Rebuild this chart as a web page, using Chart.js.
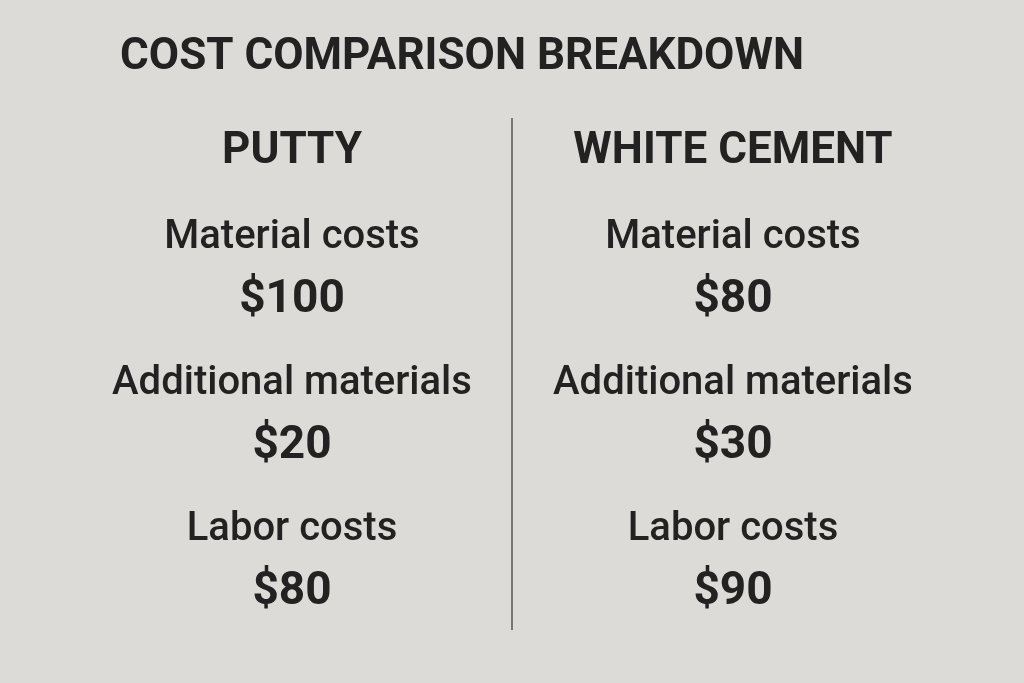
<!DOCTYPE html>
<html>
<head>
<meta charset="utf-8">
<script src="https://cdn.jsdelivr.net/npm/chart.js@4/dist/chart.umd.min.js"></script>
<style>
  html, body { margin: 0; padding: 0; background: #dddbd7; }
  #wrap { width: 1024px; height: 683px; }
</style>
</head>
<body>
<div id="wrap"><canvas id="costChart"></canvas></div>
<script>
// data
const title = 'COST COMPARISON BREAKDOWN';
const products = ['PUTTY', 'WHITE CEMENT'];
const costItems = ['Material costs', 'Additional materials', 'Labor costs'];
const puttyCosts = [100, 20, 80];
const cementCosts = [80, 30, 90];

// layout (page pixels, used only as scale positions)
const columnX = [292, 733];
const headerY = 152;
const labelY = [238, 384, 530];
const valueY = [300, 446, 592];
const dividerX = 512;
const dividerTop = 118;
const dividerBottom = 630;

const allCosts = [puttyCosts, cementCosts];
const labelPoints = [];
const valuePoints = [];
products.forEach((p, c) => {
  costItems.forEach((item, r) => {
    labelPoints.push({ x: columnX[c], y: labelY[r], text: item });
    valuePoints.push({ x: columnX[c], y: valueY[r], text: '$' + allCosts[c][r] });
  });
});
const headerPoints = products.map((p, c) => ({ x: columnX[c], y: headerY, text: p }));

const textPlugin = {
  id: 'textPlugin',
  afterDatasetsDraw(chart) {
    const ctx = chart.ctx;
    const xs = chart.scales.x, ys = chart.scales.y;
    ctx.save();
    ctx.fillStyle = '#222222';
    ctx.textBaseline = 'middle';
    ctx.textAlign = 'left';
    ctx.font = 'bold 44px Roboto';
    ctx.fillText(title, xs.getPixelForValue(120), ys.getPixelForValue(58));
    ctx.textAlign = 'center';
    chart.data.datasets.forEach(ds => {
      if (!ds.font) return;
      ctx.font = ds.font;
      ds.data.forEach(pt => {
        ctx.fillText(pt.text, xs.getPixelForValue(pt.x), ys.getPixelForValue(pt.y));
      });
    });
    ctx.restore();
  }
};

new Chart(document.getElementById('costChart'), {
  type: 'scatter',
  data: {
    datasets: [
      { data: [{ x: dividerX, y: dividerTop }, { x: dividerX, y: dividerBottom }],
        showLine: true, borderColor: '#555555', borderWidth: 1.5, pointRadius: 0 },
      { data: headerPoints, font: 'bold 44px Roboto', pointRadius: 0 },
      { data: labelPoints, font: '500 40px Roboto', pointRadius: 0 },
      { data: valuePoints, font: 'bold 46px Roboto', pointRadius: 0 }
    ]
  },
  options: {
    responsive: true,
    maintainAspectRatio: false,
    animation: false,
    layout: { padding: 0 },
    plugins: { legend: { display: false }, tooltip: { enabled: false } },
    scales: {
      x: { type: 'linear', min: 0, max: 1024, display: false },
      y: { type: 'linear', min: 0, max: 683, reverse: true, display: false }
    }
  },
  plugins: [textPlugin]
});
</script>
</body>
</html>
